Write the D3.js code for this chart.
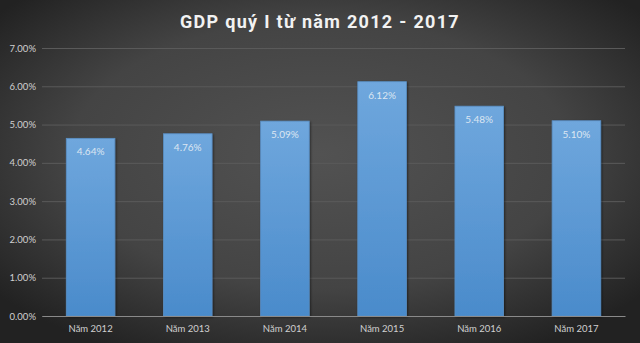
<!DOCTYPE html>
<html><head><meta charset="utf-8">
<script src="https://cdn.jsdelivr.net/npm/d3@7"></script>
<style>html,body{margin:0;padding:0;background:#333;}svg{display:block;}</style>
</head><body>
<script>
const categories = ["Năm 2012","Năm 2013","Năm 2014","Năm 2015","Năm 2016","Năm 2017"];
const values = [4.64, 4.76, 5.09, 6.12, 5.48, 5.10];
const labels = ["4.64%","4.76%","5.09%","6.12%","5.48%","5.10%"];
const yTicks = [0,1,2,3,4,5,6,7];
const title = "GDP quý I từ năm 2012 - 2017";

const W = 640, H = 343;
const m = {left: 42, right: 15, top: 48, bottom: 27};
const svg = d3.select("body").append("svg").attr("width", W).attr("height", H);
const defs = svg.append("defs");
const bg = defs.append("radialGradient").attr("id","bg").attr("cx","50%").attr("cy","45%").attr("r","65%");
bg.append("stop").attr("offset","0%").attr("stop-color","#525252");
bg.append("stop").attr("offset","60%").attr("stop-color","#444444");
bg.append("stop").attr("offset","100%").attr("stop-color","#222222");
const bar = defs.append("linearGradient").attr("id","bar").attr("x1",0).attr("y1",0).attr("x2",0).attr("y2",1);
bar.append("stop").attr("offset","0%").attr("stop-color","#6fa7dd");
bar.append("stop").attr("offset","100%").attr("stop-color","#4a8bcb");
const sh = defs.append("filter").attr("id","sh").attr("x","-20%").attr("y","-20%").attr("width","140%").attr("height","140%");
sh.append("feDropShadow").attr("dx",1).attr("dy",1).attr("stdDeviation",1.2).attr("flood-color","#000").attr("flood-opacity",0.5);

svg.append("rect").attr("width",W).attr("height",H).attr("fill","url(#bg)");

const x = d3.scaleBand().domain(categories).range([m.left, W - m.right]).paddingInner(0.5).paddingOuter(0.25);
const y = d3.scaleLinear().domain([0,7]).range([H - m.bottom, m.top]);

svg.append("text").attr("x", 320).attr("y", 28).attr("text-anchor","middle")
  .attr("font-family","Roboto, 'Liberation Sans', sans-serif").attr("font-weight","bold")
  .attr("font-size",18).attr("letter-spacing",1.3).attr("fill","#f2f2f2").text(title);

const yAxis = svg.append("g").attr("transform",`translate(${m.left},0)`)
  .call(d3.axisLeft(y).tickValues(yTicks).tickSize(-(W - m.left - m.right)).tickFormat(d => d.toFixed(2) + "%"));
yAxis.select(".domain").remove();
yAxis.selectAll(".tick line").attr("stroke","#5a5a5a").attr("stroke-width",1);
yAxis.selectAll(".tick text").attr("x",-6).attr("fill","#d0d0d0").attr("font-size",9.5)
  .attr("font-family","Lato, 'Open Sans', sans-serif");

svg.selectAll("rect.bar").data(values).enter().append("rect").attr("class","bar")
  .attr("x",(d,i)=>x(categories[i])).attr("width",x.bandwidth())
  .attr("y",d=>y(d)).attr("height",d=>y(0)-y(d))
  .attr("fill","url(#bar)").attr("stroke","#5a8fc4").attr("stroke-width",0.8).attr("filter","url(#sh)");

svg.selectAll("text.lbl").data(values).enter().append("text").attr("class","lbl")
  .attr("x",(d,i)=>x(categories[i]) + x.bandwidth()/2).attr("y",d=>y(d)+17)
  .attr("text-anchor","middle").attr("fill","#dce6f2").attr("font-size",10)
  .attr("font-family","Lato, 'Open Sans', sans-serif").text((d,i)=>labels[i]);

const xAxis = svg.append("g").attr("transform",`translate(0,${y(0)})`)
  .call(d3.axisBottom(x).tickSize(0).tickPadding(9));
xAxis.select(".domain").attr("stroke","#8a8a8a").attr("stroke-width",1.2);
xAxis.selectAll(".tick text").attr("fill","#d0d0d0").attr("font-size",9.5)
  .attr("font-family","Lato, 'Open Sans', sans-serif");
</script>
</body></html>
